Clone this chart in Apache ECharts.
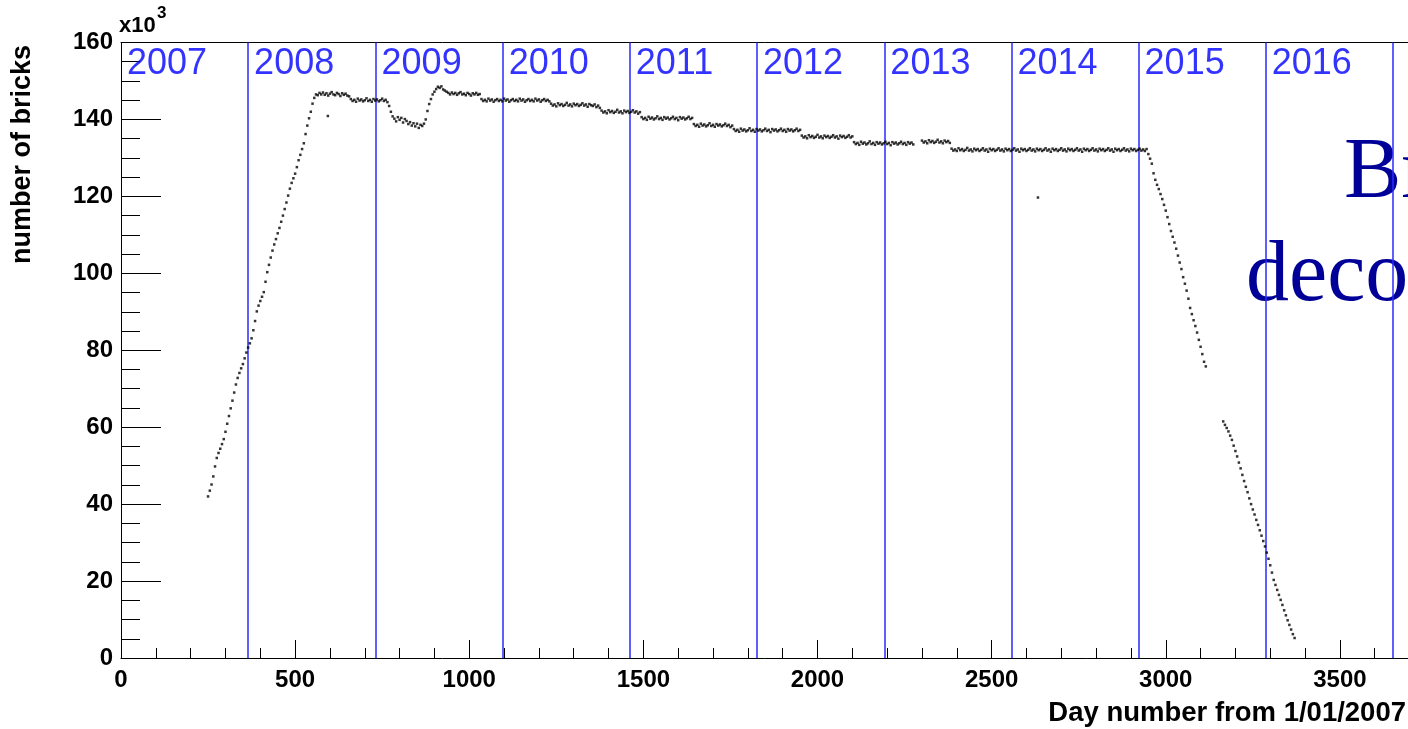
<!DOCTYPE html>
<html>
<head>
<meta charset="utf-8">
<script src="https://cdn.jsdelivr.net/npm/echarts@6/dist/echarts.min.js"></script>
<style>
html,body{margin:0;padding:0;background:#ffffff;}
#chart{width:1408px;height:729px;}
</style>
</head>
<body>
<div id="chart"></div>
<script>
// ---- data (values in thousands of bricks, sampled every 5 days) ----
const DAY_STEP = 5;

const riseStart = 250;
const riseValues = [
  42.0,43.5,45.1,47.2,49.8,52.0,53.3,54.4,55.6,56.9,
  58.8,60.9,62.9,64.9,66.9,69.0,71.1,72.8,74.1,75.3,
  76.4,77.9,79.4,80.7,81.8,83.1,85.2,87.6,90.1,91.6,
  92.8,93.9,95.1,97.8,100.3,102.2,104.1,105.9,107.5,108.9,
  110.4,111.8,113.4,115.0,116.7,118.4,120.2,122.0,123.5,124.7,
  125.9,127.6,129.4,130.8,132.3,133.8,136.2,138.4,140.3,142.0,
  144.1,145.6,146.5
];

const plateauStart = 565;
const plateauValues = [
  // 2008 top
  146.3,146.9,146.5,147.0,146.4,146.8,146.2,146.7,147.1,146.5,146.3,146.9,146.6,146.1,146.8,146.4,146.7,146.2,146.0,
  145.3,144.8,145.1,144.6,145.4,144.9,145.2,144.7,145.0,145.5,144.8,145.1,144.6,145.3,144.9,145.2,144.7,145.0,145.4,144.8,145.1,144.5,
  // 2009 dip
  143.5,142.0,140.8,140.2,139.5,140.6,139.9,140.4,139.2,140.1,139.6,138.8,139.3,138.4,139.0,138.2,138.9,137.8,138.6,138.3,
  138.9,140.0,142.2,144.0,145.3,146.5,147.2,147.9,148.5,148.2,148.6,147.8,147.5,147.2,146.9,
  146.5,147.0,146.6,146.9,146.4,146.8,147.1,146.5,146.7,146.3,146.9,146.6,146.2,146.8,146.5,146.9,146.4,146.6,
  // 2010
  145.3,144.8,145.1,144.7,145.4,144.9,145.2,144.6,145.0,145.3,144.8,145.1,144.7,145.4,144.9,145.2,144.6,145.0,145.3,144.8,
  145.1,144.7,145.4,144.9,145.2,144.6,145.0,145.3,144.8,145.1,144.7,145.4,144.9,145.2,144.6,145.0,145.3,144.8,145.1,144.7,
  144.1,143.6,143.9,143.4,144.2,143.7,144.0,143.5,143.8,144.3,143.6,143.9,143.4,144.1,143.7,144.0,143.5,143.8,144.2,143.6,
  143.9,143.3,144.0,143.7,143.5,143.9,143.2,143.6,143.0,
  // 2011
  142.3,141.8,142.1,141.6,142.4,141.9,142.2,141.7,142.0,142.5,141.8,142.1,141.6,142.3,141.9,142.2,141.7,142.0,142.4,141.8,
  142.1,141.5,141.9,
  140.6,140.1,140.4,139.9,140.7,140.2,140.5,140.0,140.3,140.8,140.1,140.4,139.9,140.6,140.2,140.5,140.0,140.3,140.7,140.1,
  140.4,139.8,140.6,140.2,140.5,140.0,140.3,140.7,140.1,140.4,
  138.8,138.3,138.6,138.1,138.9,138.4,138.7,138.2,138.5,139.0,138.3,138.6,138.1,138.8,138.4,138.7,138.2,138.5,138.9,138.3,
  138.6,138.0,138.4,
  // 2012
  137.5,137.0,137.3,136.8,137.6,137.1,137.4,136.9,137.2,137.7,137.0,137.3,136.8,137.5,137.1,137.4,136.9,137.2,137.6,137.0,
  137.3,136.7,137.5,137.1,137.4,136.9,137.2,137.6,137.0,137.3,136.8,137.5,137.1,137.4,136.9,137.2,137.6,137.0,137.3,
  135.8,135.3,135.6,135.1,135.9,135.4,135.7,135.2,135.5,136.0,135.3,135.6,135.1,135.8,135.4,135.7,135.2,135.5,135.9,135.3,
  135.6,135.0,135.8,135.4,135.7,135.2,135.5,135.9,135.3,135.6,
  // 2013
  134.1,133.6,133.9,133.4,134.2,133.7,134.0,133.5,133.8,134.3,133.6,133.9,133.4,134.1,133.7,134.0,133.5,133.8,134.2,133.6,
  133.9,133.3,134.1,133.7,134.0,133.5,133.8,134.2,133.6,133.9,133.4,134.1,133.7,134.0,133.5,
  null,null,null,null,
  134.5,134.0,134.3,133.8,134.6,134.1,134.4,133.9,134.2,134.7,134.0,134.3,133.8,134.5,134.1,134.4,133.9,
  // 2013-2015 flat
  132.4,131.9,132.2,131.8,132.5,132.0,132.3,131.8,132.1,132.6,
  131.9,132.2,131.7,132.4,132.0,132.3,131.8,132.1,132.5,131.9,
  132.2,131.6,132.4,132.0,132.3,131.8,132.1,132.5,131.9,132.2,
  131.7,132.4,132.0,132.3,131.8,132.1,132.5,131.9,132.2,131.6,
  132.4,132.0,132.3,131.8,132.1,132.5,131.9,132.2,131.7,132.4,
  132.0,132.3,131.8,132.1,132.5,131.9,132.2,131.6,132.4,132.0,
  132.3,131.8,132.1,132.5,131.9,132.2,131.7,132.4,132.0,132.3,
  131.8,132.1,132.5,131.9,132.2,131.6,132.4,132.0,132.3,131.8,
  132.1,132.5,131.9,132.2,131.7,132.4,132.0,132.3,131.8,132.1,
  132.5,131.9,132.2,131.6,132.4,132.0,132.3,131.8,132.1,132.5,
  131.9,132.2,131.7,132.4,132.0,132.3,131.8,132.1,132.4,131.9,
  132.2,131.8,132.3
];

const decomStart1 = 2950;
const decomValues1 = [
  131.0,129.8,128.5,126.0,124.3,123.0,121.9,120.6,119.3,117.8,
  116.3,114.6,112.8,111.0,109.5,108.0,106.4,104.6,102.8,101.1,
  99.0,97.3,95.5,93.4,91.0,89.4,87.8,86.3,84.6,82.7,
  80.9,79.0,77.0,75.8
];

const decomStart2 = 3165;
const decomValues2 = [
  61.5,60.6,59.8,58.9,57.8,56.7,55.2,53.8,52.4,50.8,
  49.3,47.6,46.0,44.5,43.1,41.5,40.0,38.6,37.3,35.9,
  34.6,33.2,31.8,30.4,29.0,27.4,25.8,24.1,22.2,20.3,
  19.0,17.7,16.4,15.1,13.8,12.4,11.1,9.8,8.6,7.4,
  6.2,5.2
];

const outlierDays = [594, 2633];
const outlierValues = [140.9, 119.7];

const yearStartDays = [0, 365, 731, 1096, 1461, 1826, 2192, 2557, 2922, 3287];
const yearLabels = ['2007','2008','2009','2010','2011','2012','2013','2014','2015','2016'];
const yearLineDays = [365, 731, 1096, 1461, 1826, 2192, 2557, 2922, 3287, 3653];

const xMin = 0, xMax = 4000, xInterval = 500;
const yMin = 0, yMax = 160, yInterval = 20;

// ---- build points ----
function segment(start, values) {
  const out = [];
  values.forEach((v, i) => { if (v !== null) out.push([start + i * DAY_STEP, v]); });
  return out;
}
const points = []
  .concat(segment(riseStart, riseValues))
  .concat(segment(plateauStart, plateauValues))
  .concat(segment(decomStart1, decomValues1))
  .concat(segment(decomStart2, decomValues2))
  .concat(outlierDays.map((d, i) => [d, outlierValues[i]]));

const FONT = 'Liberation Sans, Arial, Helvetica, sans-serif';
const chart = echarts.init(document.getElementById('chart'), null, {renderer: 'canvas'});

chart.setOption({
  animation: false,
  backgroundColor: '#ffffff',
  grid: {left: 121, right: -106, top: 42.5, bottom: 71, outerBoundsMode: 'none', containLabel: false},
  xAxis: [{
    type: 'value', min: xMin, max: xMax, interval: xInterval,
    axisLine: {show: true, onZero: false, lineStyle: {color: '#000', width: 1}},
    axisTick: {show: true, inside: true, length: 18, lineStyle: {color: '#000', width: 1}},
    minorTick: {show: true, splitNumber: 5, length: 10, lineStyle: {color: '#000', width: 1}},
    axisLabel: {show: true, margin: 10, color: '#000', fontSize: 24, fontWeight: 'bold', fontFamily: FONT,
      formatter: v => (v % xInterval === 0 && v < xMax) ? String(v) : ''},
    splitLine: {show: false}
  }, {
    type: 'value', position: 'top', min: xMin, max: xMax,
    axisLine: {show: true, onZero: false, lineStyle: {color: '#000', width: 1}},
    axisTick: {show: false}, axisLabel: {show: false}, splitLine: {show: false}
  }],
  yAxis: {
    type: 'value', min: yMin, max: yMax, interval: yInterval,
    axisLine: {show: true, onZero: false, lineStyle: {color: '#000', width: 1}},
    axisTick: {show: true, inside: true, length: 40, lineStyle: {color: '#000', width: 1}},
    minorTick: {show: true, splitNumber: 4, length: 19, lineStyle: {color: '#000', width: 1}},
    axisLabel: {show: true, margin: 8, color: '#000', fontSize: 24, fontWeight: 'bold', fontFamily: FONT},
    splitLine: {show: false}
  },
  series: [{
    type: 'scatter',
    name: 'bricks',
    data: points,
    symbol: 'rect',
    symbolSize: 2.5,
    itemStyle: {color: '#000000'},
    silent: true,
    z: 5
  }, {
    type: 'scatter',
    name: 'years',
    data: yearStartDays.map((d, i) => ({value: [d, yMax], name: yearLabels[i]})),
    symbolSize: 0,
    silent: true,
    label: {
      show: true, formatter: '{b}', position: [6, 4],
      color: '#0000ff', fontSize: 36, fontFamily: FONT, fontWeight: 'normal'
    },
    markLine: {
      silent: true,
      symbol: ['none', 'none'],
      label: {show: false},
      lineStyle: {color: '#2a2aff', width: 1.5, type: 'solid'},
      data: yearLineDays.map(d => ({xAxis: d}))
    },
    z: 3
  }],
  graphic: [
    {type: 'text', left: 119, top: 15, style: {text: 'x10', fill: '#000', font: 'bold 22px ' + FONT}},
    {type: 'text', left: 157, top: 5, style: {text: '3', fill: '#000', font: 'bold 17px ' + FONT}},
    {type: 'text', x: 23, y: 45, rotation: Math.PI / 2,
      style: {text: 'number of bricks', fill: '#000', font: 'bold 27px ' + FONT, align: 'right', verticalAlign: 'middle'}},
    {type: 'text', x: 1406, y: 713,
      style: {text: 'Day number from 1/01/2007', fill: '#000', font: 'bold 27.5px ' + FONT, align: 'right', verticalAlign: 'middle'}},
    {type: 'text', x: 1344, y: 174,
      style: {text: 'Bricks', fill: '#000099', font: '86px Liberation Serif, Times New Roman, serif', align: 'left', verticalAlign: 'middle'}},
    {type: 'text', x: 1246, y: 277,
      style: {text: 'decommissioning', fill: '#000099', font: '86px Liberation Serif, Times New Roman, serif', align: 'left', verticalAlign: 'middle'}}
  ]
});
</script>
</body>
</html>
